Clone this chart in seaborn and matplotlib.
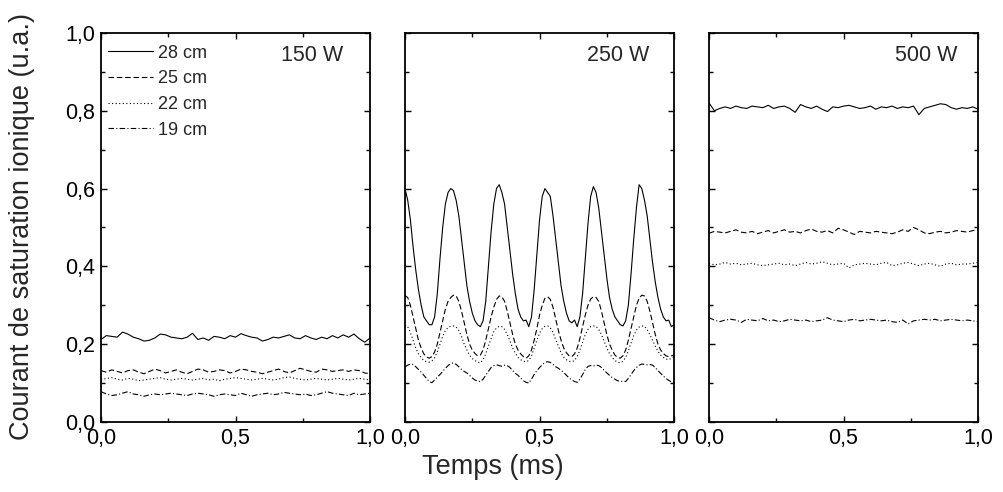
import numpy as np
import matplotlib
matplotlib.use("Agg")
import matplotlib.pyplot as plt
from matplotlib.ticker import MultipleLocator
import seaborn as sns

# ---- data ----
series_labels = ["28 cm", "25 cm", "22 cm", "19 cm"]
panel_titles = ["150 W", "250 W", "500 W"]
x_ticks = [0.0, 0.5, 1.0]
x_ticklabels = ["0,0", "0,5", "1,0"]
y_ticks = [0.0, 0.2, 0.4, 0.6, 0.8, 1.0]
y_ticklabels = ["0,0", "0,2", "0,4", "0,6", "0,8", "1,0"]

# 150 W, sampled every 0.02 ms
w150_28 = [0.212, 0.222, 0.220, 0.218, 0.231, 0.226, 0.218, 0.214, 0.208, 0.210,
           0.216, 0.226, 0.224, 0.218, 0.216, 0.214, 0.218, 0.228, 0.212, 0.216,
           0.210, 0.220, 0.218, 0.214, 0.222, 0.218, 0.227, 0.222, 0.218, 0.216,
           0.208, 0.212, 0.218, 0.216, 0.220, 0.224, 0.216, 0.214, 0.222, 0.216,
           0.212, 0.218, 0.214, 0.222, 0.216, 0.224, 0.218, 0.226, 0.214, 0.205, 0.216]
w150_25 = [0.132, 0.128, 0.134, 0.130, 0.126, 0.132, 0.134, 0.128, 0.124, 0.130,
           0.136, 0.132, 0.126, 0.130, 0.134, 0.128, 0.124, 0.130, 0.136, 0.134,
           0.128, 0.130, 0.134, 0.132, 0.126, 0.130, 0.136, 0.134, 0.130, 0.128,
           0.124, 0.128, 0.132, 0.136, 0.130, 0.126, 0.132, 0.138, 0.134, 0.130,
           0.128, 0.136, 0.134, 0.130, 0.132, 0.134, 0.130, 0.134, 0.132, 0.126, 0.124]
w150_22 = [0.108, 0.112, 0.114, 0.110, 0.108, 0.112, 0.110, 0.106, 0.108, 0.110,
           0.112, 0.114, 0.110, 0.108, 0.110, 0.112, 0.110, 0.108, 0.110, 0.112,
           0.108, 0.110, 0.106, 0.110, 0.112, 0.114, 0.112, 0.110, 0.108, 0.110,
           0.112, 0.110, 0.108, 0.110, 0.114, 0.116, 0.112, 0.110, 0.108, 0.110,
           0.112, 0.110, 0.108, 0.110, 0.112, 0.110, 0.108, 0.110, 0.112, 0.110, 0.108]
w150_19 = [0.078, 0.072, 0.068, 0.070, 0.074, 0.078, 0.072, 0.070, 0.066, 0.070,
           0.072, 0.070, 0.072, 0.074, 0.072, 0.070, 0.068, 0.072, 0.074, 0.072,
           0.070, 0.066, 0.070, 0.072, 0.070, 0.068, 0.074, 0.070, 0.066, 0.070,
           0.072, 0.074, 0.070, 0.072, 0.076, 0.074, 0.072, 0.070, 0.072, 0.068,
           0.070, 0.074, 0.078, 0.074, 0.072, 0.070, 0.068, 0.074, 0.070, 0.072, 0.074]

# 250 W, sampled every 0.01 ms
w250_28 = [0.60, 0.57, 0.52, 0.45, 0.39, 0.34, 0.30, 0.27, 0.26, 0.25,
           0.25, 0.27, 0.33, 0.42, 0.50, 0.56, 0.59, 0.60, 0.595, 0.57,
           0.53, 0.47, 0.41, 0.35, 0.31, 0.28, 0.26, 0.25, 0.245, 0.26,
           0.31, 0.40, 0.49, 0.56, 0.60, 0.61, 0.59, 0.56, 0.50, 0.44,
           0.38, 0.33, 0.29, 0.27, 0.26, 0.262, 0.245, 0.27, 0.34, 0.43,
           0.52, 0.58, 0.60, 0.59, 0.58, 0.53, 0.47, 0.41, 0.35, 0.31,
           0.28, 0.26, 0.255, 0.262, 0.245, 0.27, 0.33, 0.42, 0.51, 0.58,
           0.605, 0.59, 0.55, 0.49, 0.43, 0.37, 0.32, 0.29, 0.27, 0.26,
           0.25, 0.247, 0.26, 0.30, 0.38, 0.47, 0.55, 0.61, 0.60, 0.57,
           0.53, 0.47, 0.41, 0.36, 0.32, 0.29, 0.27, 0.26, 0.262, 0.245, 0.25]
w250_25 = [0.325, 0.32, 0.30, 0.27, 0.24, 0.21, 0.19, 0.175, 0.167, 0.164,
           0.168, 0.18, 0.20, 0.23, 0.26, 0.29, 0.31, 0.32, 0.326, 0.324,
           0.31, 0.285, 0.255, 0.225, 0.20, 0.185, 0.176, 0.17, 0.172, 0.185,
           0.21, 0.24, 0.27, 0.295, 0.315, 0.324, 0.322, 0.31, 0.285, 0.255,
           0.225, 0.20, 0.185, 0.175, 0.168, 0.164, 0.17, 0.185, 0.21, 0.24,
           0.275, 0.30, 0.318, 0.322, 0.315, 0.295, 0.265, 0.235, 0.21, 0.19,
           0.178, 0.17, 0.168, 0.175, 0.19, 0.215, 0.245, 0.275, 0.30, 0.316,
           0.322, 0.32, 0.31, 0.285, 0.255, 0.225, 0.20, 0.185, 0.172, 0.166,
           0.164, 0.17, 0.185, 0.21, 0.24, 0.27, 0.30, 0.318, 0.326, 0.324,
           0.31, 0.285, 0.255, 0.225, 0.20, 0.185, 0.176, 0.17, 0.168, 0.17, 0.172]
w250_22 = [0.25, 0.245, 0.23, 0.21, 0.19, 0.175, 0.165, 0.158, 0.155, 0.154,
           0.157, 0.165, 0.18, 0.20, 0.22, 0.235, 0.243, 0.246, 0.247, 0.244,
           0.235, 0.22, 0.20, 0.185, 0.172, 0.163, 0.158, 0.154, 0.152, 0.16,
           0.175, 0.195, 0.215, 0.232, 0.242, 0.246, 0.245, 0.238, 0.225, 0.208,
           0.19, 0.177, 0.166, 0.16, 0.156, 0.155, 0.158, 0.17, 0.19, 0.21,
           0.228, 0.24, 0.246, 0.247, 0.242, 0.23, 0.212, 0.195, 0.178, 0.166,
           0.16, 0.156, 0.155, 0.158, 0.168, 0.185, 0.205, 0.225, 0.238, 0.245,
           0.247, 0.246, 0.238, 0.225, 0.208, 0.19, 0.176, 0.166, 0.158, 0.154,
           0.152, 0.156, 0.166, 0.183, 0.203, 0.222, 0.236, 0.244, 0.247, 0.246,
           0.238, 0.225, 0.21, 0.195, 0.182, 0.172, 0.166, 0.162, 0.16, 0.164, 0.168]
w250_19 = [0.142, 0.146, 0.149, 0.148, 0.142, 0.135, 0.128, 0.12, 0.112, 0.104,
           0.101, 0.108, 0.115, 0.122, 0.13, 0.138, 0.145, 0.15, 0.152, 0.148,
           0.142, 0.135, 0.13, 0.126, 0.12, 0.113, 0.108, 0.105, 0.104, 0.11,
           0.12, 0.13, 0.14, 0.145, 0.147, 0.145, 0.143, 0.146, 0.145, 0.14,
           0.132, 0.125, 0.12, 0.113, 0.106, 0.102, 0.10, 0.11, 0.122, 0.132,
           0.14, 0.147, 0.153, 0.155, 0.153, 0.148, 0.142, 0.138, 0.133, 0.127,
           0.12, 0.113, 0.108, 0.104, 0.102, 0.11, 0.122, 0.135, 0.143, 0.145,
           0.144, 0.146, 0.145, 0.14, 0.133, 0.126, 0.12, 0.114, 0.11, 0.106,
           0.105, 0.104, 0.104, 0.112, 0.122, 0.132, 0.14, 0.146, 0.149, 0.148,
           0.147, 0.148, 0.146, 0.14, 0.132, 0.125, 0.118, 0.112, 0.107, 0.103, 0.101]

# 500 W, sampled every 0.02 ms
w500_28 = [0.820, 0.800, 0.806, 0.810, 0.806, 0.812, 0.808, 0.806, 0.812, 0.810,
           0.808, 0.814, 0.806, 0.810, 0.812, 0.806, 0.796, 0.816, 0.810, 0.806,
           0.812, 0.804, 0.798, 0.810, 0.808, 0.812, 0.814, 0.810, 0.806, 0.808,
           0.812, 0.804, 0.810, 0.808, 0.812, 0.806, 0.810, 0.808, 0.812, 0.790,
           0.806, 0.810, 0.814, 0.818, 0.816, 0.808, 0.804, 0.808, 0.806, 0.810, 0.804]
w500_25 = [0.485, 0.490, 0.488, 0.486, 0.490, 0.494, 0.488, 0.486, 0.490, 0.484,
           0.488, 0.492, 0.486, 0.490, 0.494, 0.488, 0.490, 0.486, 0.492, 0.496,
           0.490, 0.488, 0.492, 0.486, 0.498, 0.494, 0.488, 0.482, 0.490, 0.488,
           0.486, 0.490, 0.488, 0.486, 0.484, 0.488, 0.494, 0.490, 0.500, 0.494,
           0.486, 0.484, 0.488, 0.490, 0.486, 0.488, 0.492, 0.490, 0.488, 0.492, 0.494]
w500_22 = [0.408, 0.404, 0.406, 0.410, 0.406, 0.408, 0.404, 0.406, 0.408, 0.404,
           0.402, 0.404, 0.406, 0.408, 0.404, 0.406, 0.402, 0.406, 0.410, 0.406,
           0.408, 0.412, 0.408, 0.404, 0.406, 0.408, 0.396, 0.404, 0.406, 0.408,
           0.406, 0.404, 0.408, 0.410, 0.402, 0.404, 0.408, 0.410, 0.406, 0.402,
           0.406, 0.408, 0.404, 0.400, 0.406, 0.408, 0.404, 0.406, 0.406, 0.408, 0.410]
w500_19 = [0.268, 0.262, 0.258, 0.262, 0.264, 0.262, 0.256, 0.264, 0.262, 0.260,
           0.266, 0.260, 0.262, 0.258, 0.260, 0.264, 0.262, 0.260, 0.262, 0.258,
           0.260, 0.262, 0.268, 0.262, 0.260, 0.258, 0.262, 0.264, 0.260, 0.262,
           0.264, 0.262, 0.260, 0.262, 0.258, 0.256, 0.262, 0.252, 0.260, 0.262,
           0.264, 0.262, 0.264, 0.260, 0.262, 0.264, 0.262, 0.260, 0.262, 0.260, 0.258]

panels = [
    [w150_28, w150_25, w150_22, w150_19],
    [w250_28, w250_25, w250_22, w250_19],
    [w500_28, w500_25, w500_22, w500_19],
]

# ---- style ----
sns.set_style("ticks")
plt.rcParams["font.family"] = ["Liberation Sans", "DejaVu Sans"]
plt.rcParams["xtick.direction"] = "in"
plt.rcParams["ytick.direction"] = "in"

line_styles = ["-", (0, (5, 2.5)), (0, (1, 2.2)), (0, (5, 2, 1, 2))]

fig = plt.figure(figsize=(10.04, 4.92), dpi=100)
lefts = [0.1006, 0.4034, 0.7062]
title_x = [0.90, 0.907, 0.922]
axes = [fig.add_axes([l, 0.1423, 0.268, 0.7907]) for l in lefts]

for i, ax in enumerate(axes):
    for vals, lab, ls in zip(panels[i], series_labels, line_styles):
        t = np.linspace(0, 1, len(vals))
        sns.lineplot(x=t, y=vals, ax=ax, color="black", lw=0.8, linestyle=ls,
                     label=lab if i == 0 else None, legend=False)
    ax.set_xlim(0, 1)
    ax.set_ylim(0, 1)
    ax.set_xticks(x_ticks)
    ax.set_xticklabels(x_ticklabels)
    ax.set_yticks(y_ticks)
    if i == 0:
        ax.set_yticklabels(y_ticklabels)
    else:
        ax.set_yticklabels([])
    ax.xaxis.set_minor_locator(MultipleLocator(0.25))
    ax.yaxis.set_minor_locator(MultipleLocator(0.1))
    ax.tick_params(which="both", top=True, right=True, direction="in",
                   width=1.0, labelsize=15.5, colors="black")
    ax.tick_params(which="major", length=4.5, pad=4)
    ax.tick_params(which="minor", length=3)
    for s in ax.spines.values():
        s.set_linewidth(1.3)
        s.set_color("black")
    ax.text(title_x[i], 0.943, panel_titles[i], transform=ax.transAxes,
            ha="right", va="center", fontsize=15.5)

axes[0].legend(loc="upper left", bbox_to_anchor=(-0.018, 1.0), frameon=False,
               fontsize=13, handlelength=2.5, handletextpad=0.25,
               labelspacing=0.48, borderaxespad=0.45, borderpad=0.2)

fig.text(0.022, 0.54, "Courant de saturation ionique (u.a.)", rotation=90,
         ha="center", va="center", fontsize=19.5)
fig.text(0.491, 0.05, "Temps (ms)", ha="center", va="center", fontsize=19.5)

fig.savefig("out.png", dpi=100)
